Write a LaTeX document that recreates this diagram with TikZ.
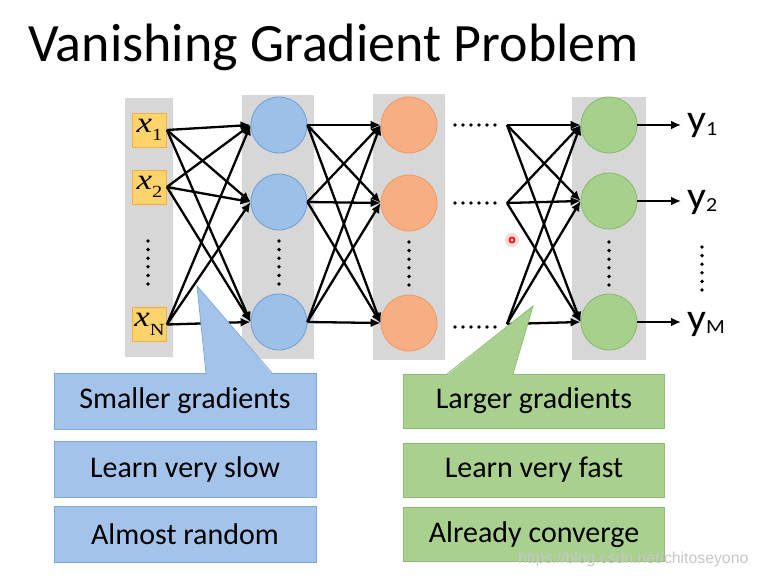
\documentclass[tikz,border=0pt]{standalone}
\usepackage{graphicx}
\usepackage{fontspec}
\setmainfont{Carlito}
\newfontfamily\serifx{Liberation Serif}
\newfontfamily\wmfont{Liberation Sans}
\usetikzlibrary{arrows.meta}
\definecolor{colgray}{HTML}{D7D7D7}
\definecolor{xfill}{HTML}{FFD36B}
\definecolor{xdraw}{HTML}{F2B04A}
\definecolor{bluefill}{HTML}{9DC0E8}
\definecolor{bluedraw}{HTML}{6F9DD6}
\definecolor{orfill}{HTML}{F6AE82}
\definecolor{ordraw}{HTML}{EE9A62}
\definecolor{grfill}{HTML}{A8D08D}
\definecolor{grdraw}{HTML}{86B96A}
\definecolor{bboxfill}{HTML}{A3C3EA}
\definecolor{bboxdraw}{HTML}{7DA7DA}
\definecolor{gboxfill}{HTML}{A9D08E}
\definecolor{gboxdraw}{HTML}{8DBE72}
\newcommand{\xlab}[1]{\scalebox{1.2}[1]{\serifx\fontsize{29}{29}\selectfont\itshape x\raisebox{-0.29em}{\upshape\fontsize{17}{17}\selectfont #1}}}
\newcommand{\ylab}[1]{\scalebox{1.1}[1]{\fontsize{38}{38}\selectfont y\raisebox{-0.1em}{\fontsize{20}{20}\selectfont #1}}}
\begin{document}
\begin{tikzpicture}[x=1pt,y=-1pt,
  colbg/.style={fill=colgray},
  xbox/.style={draw=xdraw, fill=xfill, line width=0.8pt, minimum width=34pt, minimum height=34pt, inner sep=0pt},
  neuron/.style={circle, minimum size=56pt, inner sep=0pt, line width=0.8pt},
  bneuron/.style={neuron, fill=bluefill, draw=bluedraw},
  oneuron/.style={neuron, fill=orfill, draw=ordraw},
  gneuron/.style={neuron, fill=grfill, draw=grdraw},
  conn/.style={line width=2.3pt, -{Latex[length=10pt,width=9pt]}},
  bbox/.style={fill=bboxfill, draw=bboxdraw, line width=0.8pt, minimum width=262pt, minimum height=56pt, inner sep=0pt, font=\fontsize{30}{31}\selectfont},
  gbox/.style={fill=gboxfill, draw=gboxdraw, line width=0.8pt, minimum width=261pt, minimum height=54pt, inner sep=0pt, font=\fontsize{30}{31}\selectfont},
  vdots/.style={fill=black},
]
\useasboundingbox (0,0) rectangle (759,577);
\fill[white] (0,0) rectangle (759,577);

% title
\node[anchor=base west, inner sep=0pt, font=\fontsize{54}{55}\selectfont] (title) at (28,62) {Vanishing Gradient Problem};

% gray columns
\fill[colbg] (125,98) rectangle (173,357);
\fill[colbg] (242,95) rectangle (314,359);
\fill[colbg] (373,94) rectangle (445,360);
\fill[colbg] (572,97) rectangle (646,360);

% inputs
\node[xbox] (x1) at (149.5,130) {\xlab{1}};
\node[xbox] (x2) at (149.5,187) {\xlab{2}};
\node[xbox] (xN) at (149.5,324.5) {\xlab{N}};

% neurons
\node[bneuron] (b1) at (279,125) {};
\node[bneuron] (b2) at (279,202) {};
\node[bneuron] (b3) at (279,322) {};
\node[oneuron] (o1) at (409,125) {};
\node[oneuron] (o2) at (409,203) {};
\node[oneuron] (o3) at (409,323) {};
\node[gneuron] (g1) at (609,125) {};
\node[gneuron] (g2) at (609,201) {};
\node[gneuron] (g3) at (609,322) {};

% fan-out points after the horizontal dots
\coordinate (d1) at (507,125);
\coordinate (d2) at (507,203);
\coordinate (d3) at (507,324);

% vertical dots
\foreach \cx/\cy in {148/241, 279/241, 409/242, 609/242, 702/247}{
  \foreach \k in {0,...,5}{ \fill[vdots] (\cx,\cy+\k*8.6) circle (1.9); }
}
% horizontal dots
\foreach \cy in {125,203,327}{
  \foreach \k in {0,...,5}{ \fill[vdots] (455+\k*8,\cy) circle (1.9); }
}

% connections
\foreach \s in {x1,x2,xN}{ \foreach \t in {b1,b2,b3}{ \draw[conn] (\s.east) -- (\t.west); } }
\foreach \s in {b1,b2,b3}{ \foreach \t in {o1,o2,o3}{ \draw[conn] (\s.east) -- (\t.west); } }
\foreach \s in {d1,d2,d3}{ \foreach \t in {g1,g2,g3}{ \draw[conn] (\s) -- (\t.west); } }

% outputs
\node[anchor=base west, inner sep=0pt] (y1) at (687,132) {\ylab{1}};
\node[anchor=base west, inner sep=0pt] (y2) at (687,208) {\ylab{2}};
\node[anchor=base west, inner sep=0pt] (yM) at (687,330) {\ylab{M}};
\draw[conn] (g1.east) -- (g1.east -| 681,0);
\draw[conn] (g2.east) -- (g2.east -| 681,0);
\draw[conn] (g3.east) -- (g3.east -| 681,0);

% blue callouts
\node[bbox] (sg) at (185,401) {Smaller gradients};
\node[bbox] (ls) at (185,469.5) {Learn very slow};
\node[bbox] (ar) at (185,534.5) {Almost random};
\fill[bboxfill] (206.5,373.8) -- (197,286) -- (271.5,373.8) -- cycle;
\draw[bboxdraw, line width=0.8pt] (206,373) -- (197,286) -- (272,373);

% green callouts
\node[gbox] (lg) at (534,401) {Larger gradients};
\node[gbox] (lf) at (534,470) {Learn very fast};
\node[gbox] (ac) at (534,534.5) {Already converge};
\fill[gboxfill] (447.5,374.8) -- (533,306) -- (512.5,374.8) -- cycle;
\draw[gboxdraw, line width=0.8pt] (447,374) -- (533,306) -- (513,374);

% laser pointer mark
\fill[red!15] (512,240) circle (7);
\draw[red, line width=1.6pt] (512,240) circle (2.6);

% watermark
\node[anchor=base west, inner sep=0pt, text=black!22, font=\wmfont\fontsize{15.8}{16}\selectfont] (wm) at (518,563) {https://blog.csdn.net/chitoseyono};
\end{tikzpicture}
\end{document}
